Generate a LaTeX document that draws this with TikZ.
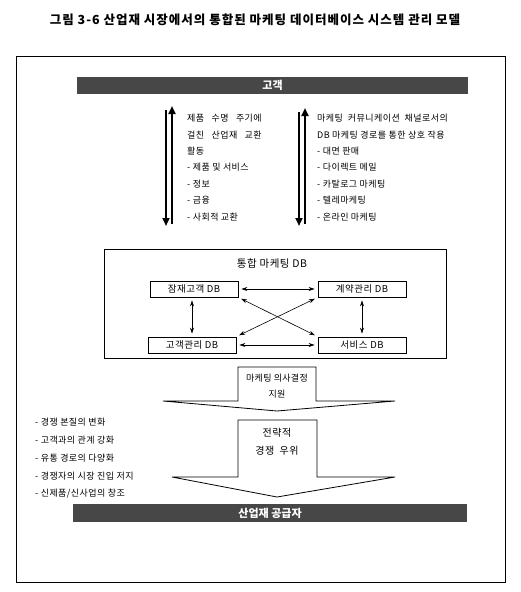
\documentclass[tikz,border=0pt]{standalone}
\usepackage{fontspec}
\setmainfont{Noto Sans CJK KR}
\usetikzlibrary{arrows.meta}
\begin{document}
\begin{tikzpicture}[x=1pt,y=-1pt,
  txt/.style={font=\fontsize{9}{16.4}\selectfont\addfontfeatures{LetterSpace=5}, align=left, inner sep=0pt},
  bar/.style={fill=black!72, text=white, font=\fontsize{11}{12}\selectfont\bfseries, inner sep=0pt},
  dbbox/.style={draw, line width=0.8pt, minimum width=88pt, minimum height=16pt, inner sep=0pt, font=\fontsize{9.5}{11}\selectfont\addfontfeatures{LetterSpace=5}},
  thick arrow/.style={line width=2pt, -{Triangle[width=7pt,length=8pt]}},
  dbarrow/.style={line width=0.6pt, {Stealth[width=4pt,length=6pt]}-{Stealth[width=4pt,length=6pt]}, shorten <=3pt, shorten >=3pt},
  blockarrow/.style={draw, line width=0.8pt, fill=white},
  listtxt/.style={font=\fontsize{9}{17.8}\selectfont\addfontfeatures{LetterSpace=5}, align=left, inner sep=0pt}
]
\useasboundingbox (0,0) rectangle (520,592);
% title
\node[font=\fontsize{12.5}{14}\selectfont\bfseries\addfontfeatures{LetterSpace=8}] (title) at (255,20) {그림 3-6 산업재 시장에서의 통합된 마케팅 데이터베이스 시스템 관리 모델};
% frame
\draw[line width=0.8pt] (16,56) rectangle (505,582);
% top bar
\node[bar, minimum width=391pt, minimum height=17pt] (cust) at (272.5,85.5) {고객};
% bottom bar
\node[bar, minimum width=394pt, minimum height=18pt] (supp) at (270,513) {산업재 공급자};
% vertical double arrows
\coordinate (l1a) at (166,110); \coordinate (l1b) at (166,226);
\coordinate (l2a) at (172,224); \coordinate (l2b) at (172,106);
\coordinate (r1a) at (299,112); \coordinate (r1b) at (299,226);
\coordinate (r2a) at (305,224); \coordinate (r2b) at (305,108);
\draw[thick arrow] (l1a) -- (l1b);
\draw[thick arrow] (l2a) -- (l2b);
\draw[thick arrow] (r1a) -- (r1b);
\draw[thick arrow] (r2a) -- (r2b);
% text blocks
\node[txt, anchor=north west] (ltext) at (187,114) {제품~~~수명~~~주기에\\걸친~~~산업재~~~교환\\활동\\- 제품 및 서비스\\- 정보\\- 금융\\- 사회적 교환};
\node[txt, anchor=north west] (rtext) at (317,114) {마케팅~~커뮤니케이션~~채널로서의\\DB 마케팅 경로를 통한 상호 작용\\- 대면 판매\\- 다이렉트 메일\\- 카탈로그 마케팅\\- 텔레마케팅\\- 온라인 마케팅};
% DB box
\draw[line width=0.8pt] (104,249) rectangle (446,358);
\node[font=\fontsize{10.5}{12}\selectfont\addfontfeatures{LetterSpace=5}] (dbtitle) at (272,264) {통합 마케팅 DB};
\node[dbbox] (A) at (194,289) {잠재고객 DB};
\node[dbbox] (B) at (362,289) {계약관리 DB};
\node[dbbox] (C) at (192,345) {고객관리 DB};
\node[dbbox] (D) at (362,345) {서비스 DB};
\draw[dbarrow] (A) -- (B);
\draw[dbarrow] (C) -- (D);
\draw[dbarrow] (A.south -| C) -- (C.north);
\draw[dbarrow] (B.south) -- (D.north);
\draw[dbarrow] (A.south east) -- (D.north west);
\draw[dbarrow] (C.north east) -- (B.south west);
% block arrow 1
\draw[blockarrow] (238,367) -- (238,401) -- (163,401) -- (277,411) -- (395,401) -- (316,401) -- (316,367) -- cycle;
\node[font=\fontsize{9}{16}\selectfont\addfontfeatures{LetterSpace=3}, align=center, inner sep=0pt] (dec) at (277,386) {마케팅 의사결정\\지원};
% block arrow 2
\draw[blockarrow] (238,420) -- (238,477) -- (172,477) -- (277,497) -- (395,477) -- (317,477) -- (317,420) -- cycle;
\node[font=\fontsize{10}{18}\selectfont\addfontfeatures{LetterSpace=5}, align=center, inner sep=0pt] (adv) at (277,442) {전략적\\경쟁~~우위};
% left list
\node[listtxt, anchor=north west] (list) at (35,418) {- 경쟁 본질의 변화\\- 고객과의 관계 강화\\- 유통 경로의 다양화\\- 경쟁자의 시장 진입 저지\\- 신제품/신사업의 창조};
\end{tikzpicture}
\end{document}
